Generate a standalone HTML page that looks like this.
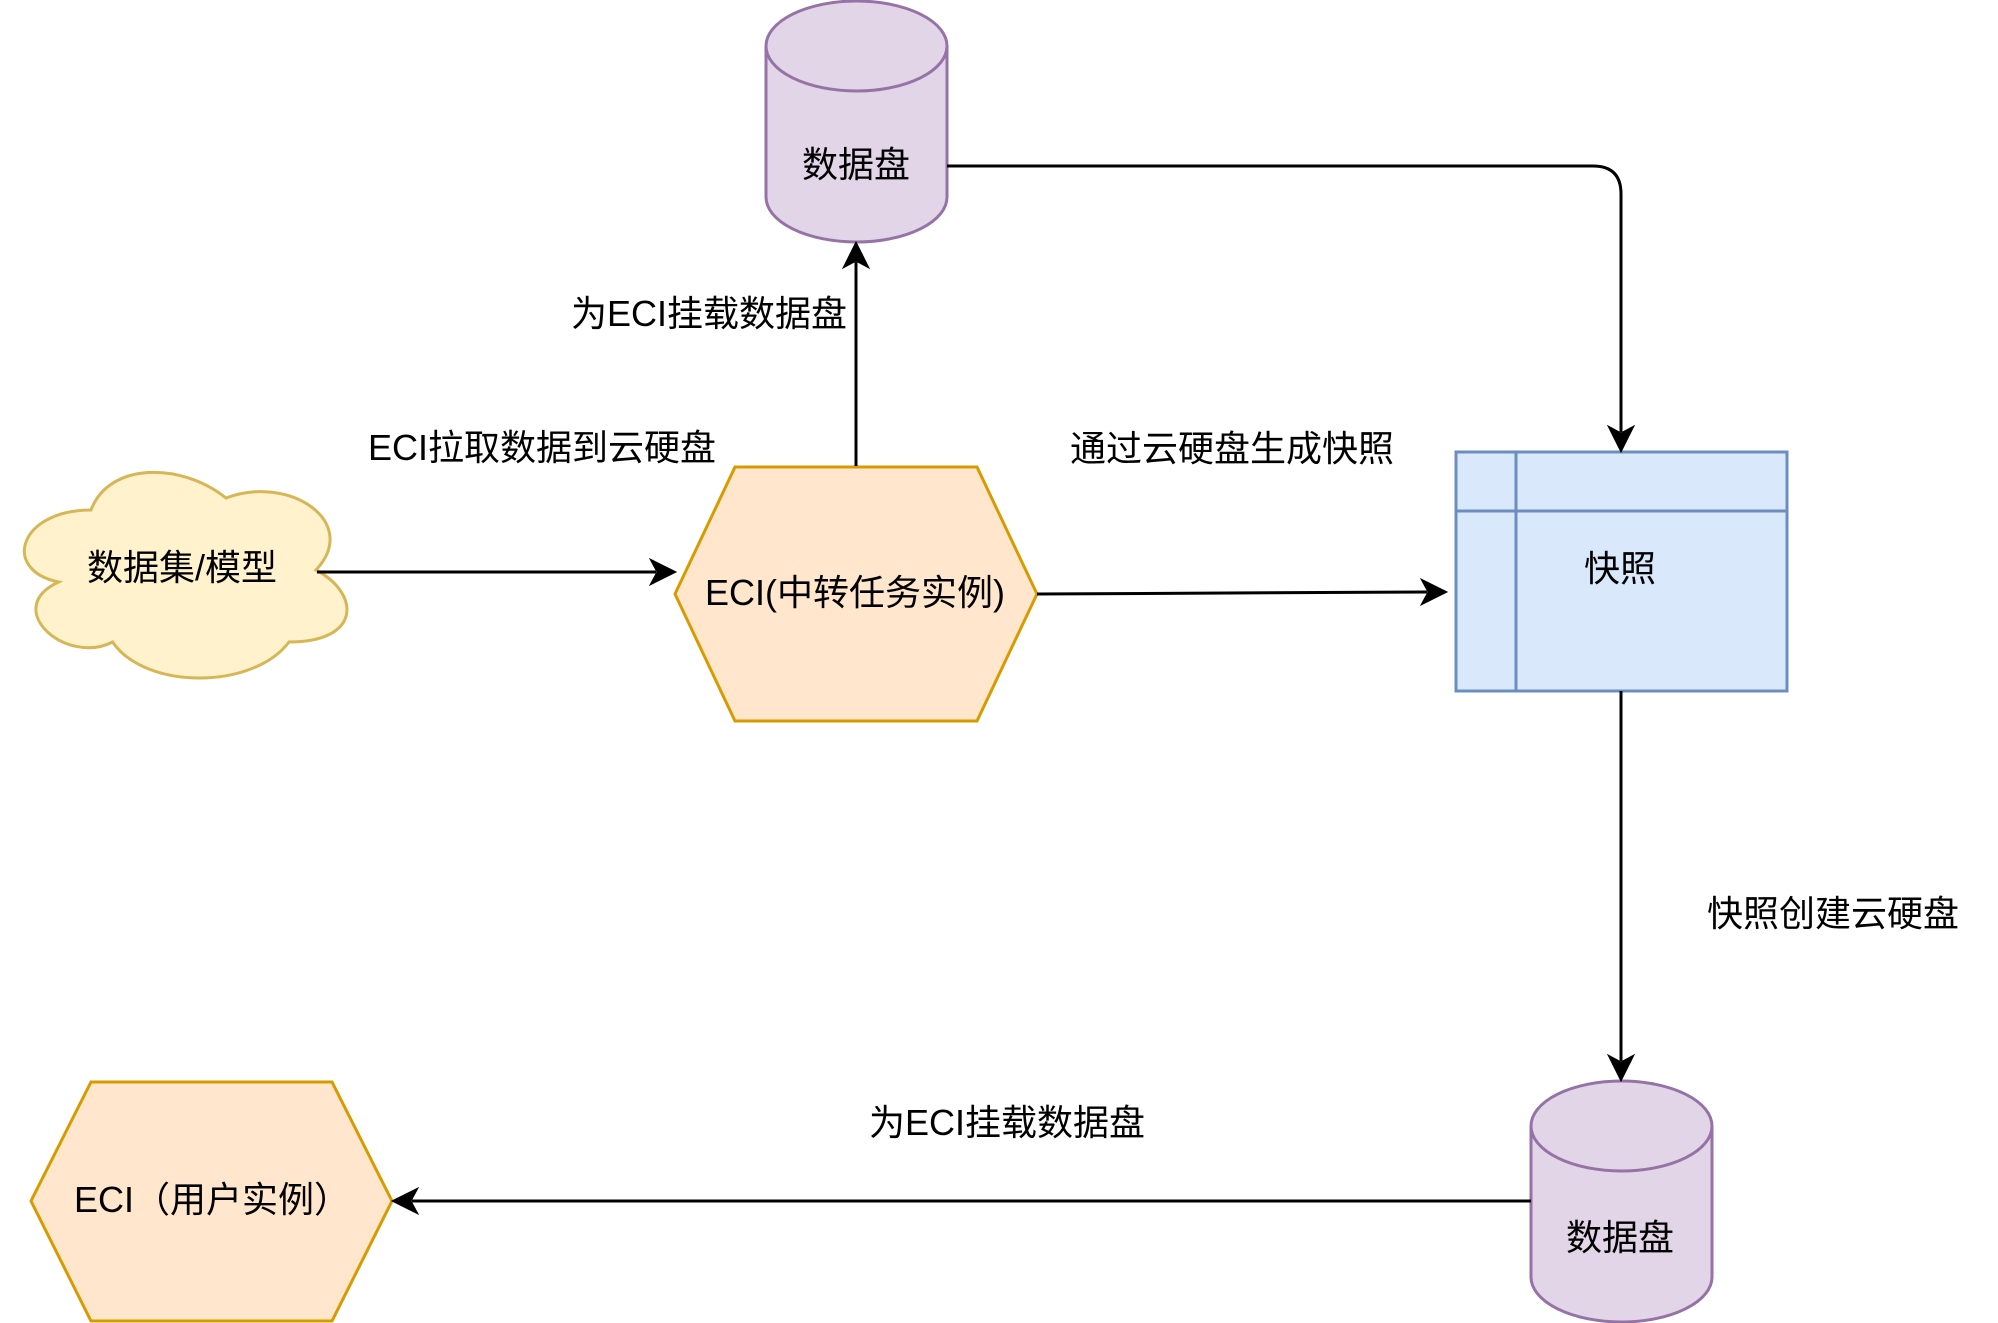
<!DOCTYPE html>
<html>
<head>
<meta charset="utf-8">
<style>
  html, body { margin: 0; padding: 0; background: #ffffff; }
  svg { display: block; }
  text { font-family: "Liberation Sans", "Noto Sans CJK SC", "WenQuanYi Zen Hei", sans-serif; font-size: 36px; fill: #000; }
</style>
</head>
<body>
<svg width="1998" height="1323" viewBox="0 0 1998 1323" xmlns="http://www.w3.org/2000/svg">
  <rect x="0" y="0" width="1998" height="1323" fill="#ffffff"/>

  <!-- Top cylinder 数据盘 -->
  <path d="M766,46 A90.5,45 0 0 1 947,46 L947,197 A90.5,45 0 0 1 766,197 Z" fill="#e1d5e7" stroke="#9673a6" stroke-width="3"/>
  <path d="M766,46 A90.5,45 0 0 0 947,46" fill="none" stroke="#9673a6" stroke-width="3"/>
  <text x="856" y="177" text-anchor="middle">数据盘</text>

  <!-- Cloud 数据集/模型 -->
  <path d="M91,510 C19,510 1,570 58.6,582 C1,608.4 65.8,666 112.6,642 C145,690 253,690 289,642 C361,642 361,594 316,570 C361,522 289,474 226,498 C181,462 109,462 91,510 Z" fill="#fff2cc" stroke="#d6b656" stroke-width="3"/>
  <text x="182" y="580" text-anchor="middle">数据集/模型</text>

  <!-- Hexagon ECI(中转任务实例) -->
  <polygon points="735,467 977,467 1037,594 977,721 735,721 675,594" fill="#ffe6cc" stroke="#d79b00" stroke-width="3"/>
  <text x="855" y="605" text-anchor="middle">ECI(中转任务实例)</text>

  <!-- Snapshot table shape 快照 -->
  <rect x="1456" y="452" width="331" height="239" fill="#dae8fc" stroke="#6c8ebf" stroke-width="3"/>
  <line x1="1516" y1="452" x2="1516" y2="691" stroke="#6c8ebf" stroke-width="3"/>
  <line x1="1456" y1="511" x2="1787" y2="511" stroke="#6c8ebf" stroke-width="3"/>
  <text x="1620" y="581" text-anchor="middle">快照</text>

  <!-- Bottom cylinder 数据盘 -->
  <path d="M1531,1126 A90.5,45 0 0 1 1712,1126 L1712,1277 A90.5,45 0 0 1 1531,1277 Z" fill="#e1d5e7" stroke="#9673a6" stroke-width="3"/>
  <path d="M1531,1126 A90.5,45 0 0 0 1712,1126" fill="none" stroke="#9673a6" stroke-width="3"/>
  <text x="1620" y="1250" text-anchor="middle">数据盘</text>

  <!-- Bottom hexagon ECI（用户实例） -->
  <polygon points="91,1082 332,1082 392,1201 332,1321 91,1321 31,1201" fill="#ffe6cc" stroke="#d79b00" stroke-width="3"/>
  <text x="74" y="1212">ECI（用户实例）</text>

  <!-- Connectors -->
  <g stroke="#000" stroke-width="3" fill="none">
    <!-- cloud -> hexagon -->
    <line x1="317" y1="572" x2="656" y2="572"/>
    <!-- hexagon -> top cylinder -->
    <line x1="856" y1="466" x2="856" y2="262"/>
    <!-- hexagon -> snapshot -->
    <line x1="1037" y1="594" x2="1427" y2="592"/>
    <!-- top cylinder -> snapshot (rounded corner) -->
    <path d="M947,166 L1593,166 Q1621,166 1621,194 L1621,432"/>
    <!-- snapshot -> bottom cylinder -->
    <line x1="1621" y1="691" x2="1621" y2="1061"/>
    <!-- bottom cylinder -> bottom hexagon -->
    <line x1="1531" y1="1201" x2="412" y2="1201"/>
  </g>

  <!-- Arrowheads -->
  <g fill="#000" stroke="#000" stroke-width="1">
    <!-- right at (676,572) -->
    <path d="M676,572 L650,559 L657,572 L650,585 Z"/>
    <!-- up at (856,242) -->
    <path d="M856,242 L843,268 L856,261 L869,268 Z"/>
    <!-- right at (1447,592) -->
    <path d="M1447,592 L1421,579 L1428,592 L1421,605 Z"/>
    <!-- down at (1621,452) -->
    <path d="M1621,452 L1608,426 L1621,433 L1634,426 Z"/>
    <!-- down at (1621,1081) -->
    <path d="M1621,1081 L1608,1055 L1621,1062 L1634,1055 Z"/>
    <!-- left at (392,1201) -->
    <path d="M392,1201 L418,1188 L411,1201 L418,1214 Z"/>
  </g>

  <!-- Edge labels -->
  <text x="571" y="326">为ECI挂载数据盘</text>
  <text x="368" y="460">ECI拉取数据到云硬盘</text>
  <text x="1070" y="461">通过云硬盘生成快照</text>
  <text x="1707" y="926">快照创建云硬盘</text>
  <text x="869" y="1135">为ECI挂载数据盘</text>
</svg>
</body>
</html>
